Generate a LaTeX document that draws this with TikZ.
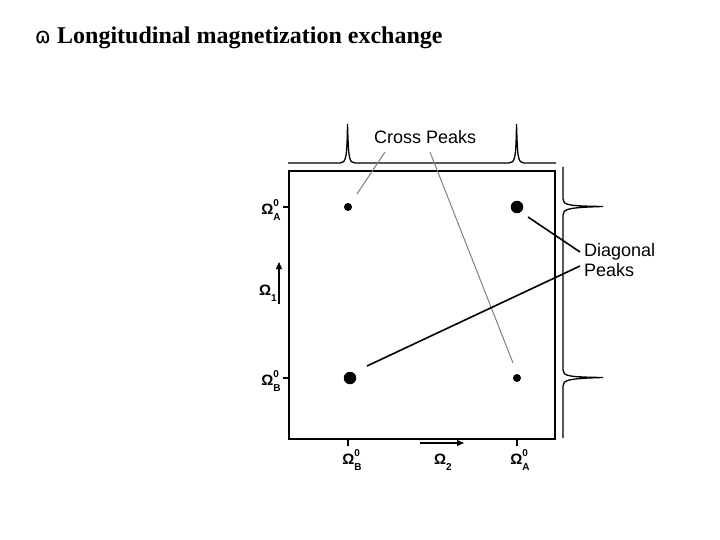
\documentclass[tikz,border=0pt]{standalone}
\usepackage{fontspec}
\setmainfont{Liberation Serif}
\newfontfamily\lblfont{Liberation Sans}
\newfontfamily\symfont{DejaVu Sans}
\usetikzlibrary{arrows.meta}
\newcommand{\omlab}[2]{\textbf{Ω}\rlap{\raisebox{8pt}{\fontsize{10}{10}\selectfont\textbf{#1}}}\raisebox{-6pt}{\fontsize{10}{10}\selectfont\textbf{#2}}}
\tikzset{
  lbl/.style={font=\lblfont\fontsize{18}{20}\selectfont, inner sep=0pt, align=left},
  omg/.style={font=\lblfont\fontsize{15}{16}\selectfont, inner sep=0pt},
  frame/.style={draw, line width=2pt},
  spec/.style={draw, line width=1.3pt},
  tick/.style={draw, line width=1.3pt},
  graylead/.style={draw=gray, line width=1pt},
  blacklead/.style={draw, line width=1.6pt},
  axarrow/.style={draw, line width=1.2pt, -{Triangle[length=7pt,width=6pt]}},
  dotsmall/.style={circle, fill, inner sep=0pt, minimum size=8pt},
  dotbig/.style={circle, fill, inner sep=0pt, minimum size=12.5pt},
}
\begin{document}
\begin{tikzpicture}[x=1pt,y=-1pt]
\useasboundingbox (0,0) rectangle (720,540);
% title
\node[anchor=base east, inner sep=0pt, font=\symfont\fontsize{22}{24}\selectfont] (bul) at (51,44) {ɷ};
\node[anchor=base west, inner sep=0pt, font=\bfseries\fontsize{24}{26}\selectfont] (title) at (57,44) {Longitudinal magnetization exchange};
% frame
\draw[frame] (289,171) rectangle (555,439);
% top spectrum
\draw[spec] (288,163) -- (340,163) .. controls (346,163) and (347,158) .. (347.5,124)
  .. controls (348.5,158) and (349,163) .. (355,163) -- (509,163)
  .. controls (515,163) and (516,158) .. (516.5,124)
  .. controls (517.5,158) and (518,163) .. (524,163) -- (556,163);
% right spectrum
\draw[spec] (563,167) -- (563,199) .. controls (563,205) and (568,206) .. (603,206.5)
  .. controls (568,207.5) and (563,209) .. (563,215) -- (563,370)
  .. controls (563,376) and (568,377) .. (603,377.5)
  .. controls (568,378.5) and (563,380) .. (563,386) -- (563,438);
% ticks
\draw[tick] (283,207) -- (289,207);
\draw[tick] (283,378) -- (289,378);
\draw[tick] (348,439) -- (348,446);
\draw[tick] (517,439) -- (517,446);
% axis labels
\node[omg] (oa1) at (271,210) {\omlab{0}{A}};
\node[omg] (ob1) at (271,381) {\omlab{0}{B}};
\node[omg] (o1) at (268,293) {\omlab{}{1}};
\node[omg] (ob2) at (352,460) {\omlab{0}{B}};
\node[omg] (o2) at (443,462) {\omlab{}{2}};
\node[omg] (oa2) at (520,460) {\omlab{0}{A}};
\coordinate (a1s) at (279,304);
\coordinate (a1e) at (279,262);
\draw[axarrow] (a1s) -- (a1e);
\coordinate (a2s) at (420,443);
\coordinate (a2e) at (464,443);
\draw[axarrow] (a2s) -- (a2e);
% peaks
\node[dotsmall] (pAB) at (348,207) {};
\node[dotbig] (pAA) at (517,207) {};
\node[dotbig] (pBB) at (350,378) {};
\node[dotsmall] (pBA) at (517,378) {};
% labels
\node[lbl, anchor=base west] (cross) at (374,144) {Cross Peaks};
\node[lbl, anchor=north west] (diag) at (584,243) {Diagonal\\Peaks};
% leaders
\coordinate (c1s) at (385,152);
\coordinate (c1e) at (357,194);
\coordinate (c2s) at (430,152);
\coordinate (c2e) at (513,363);
\draw[graylead] (c1s) -- (c1e);
\draw[graylead] (c2s) -- (c2e);
\coordinate (d1s) at (580,252);
\coordinate (d1e) at (528,217);
\coordinate (d2s) at (580,266);
\coordinate (d2e) at (367,366);
\draw[blacklead] (d1s) -- (d1e);
\draw[blacklead] (d2s) -- (d2e);
\end{tikzpicture}
\end{document}
